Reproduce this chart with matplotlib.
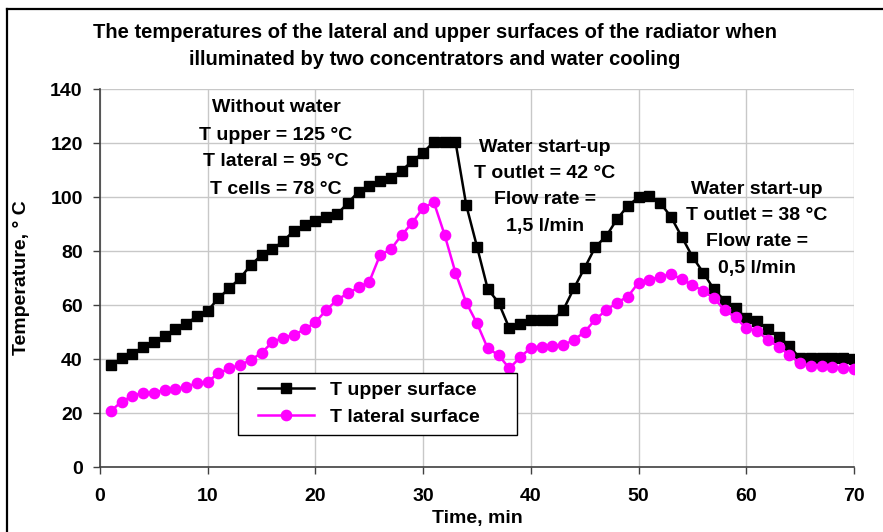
import matplotlib
matplotlib.use("Agg")
import matplotlib.pyplot as plt
from matplotlib.lines import Line2D
from matplotlib.legend_handler import HandlerLine2D

plt.rcParams['font.family'] = ['Liberation Sans', 'DejaVu Sans']
plt.rcParams['font.weight'] = 'bold'

time_min = list(range(1, 71))
t_upper = [37.8, 40.2, 41.8, 44.6, 46.4, 48.5, 51.0, 52.8, 56.0, 57.9,
           62.5, 66.2, 69.9, 74.8, 78.5, 80.6, 83.7, 87.4, 89.6, 91.0,
           92.7, 93.6, 97.7, 102.0, 104.1, 105.9, 107.2, 109.8, 113.3, 116.4,
           120.5, 120.5, 120.5, 97.0, 81.6, 65.9, 60.9, 51.4, 52.8, 54.4,
           54.4, 54.4, 58.1, 66.2, 73.8, 81.6, 85.5, 91.8, 96.7, 99.9,
           100.4, 97.9, 92.7, 85.3, 77.9, 72.0, 65.8, 61.6, 58.8, 55.1,
           54.2, 51.0, 48.3, 44.8, 40.2, 40.2, 40.2, 40.2, 40.2, 39.9]
t_lateral = [20.7, 24.2, 26.3, 27.5, 27.5, 28.5, 28.8, 29.8, 31.0, 31.6,
             34.7, 36.5, 37.8, 39.6, 42.3, 46.2, 47.9, 48.9, 51.0, 53.6,
             58.1, 61.9, 64.3, 66.5, 68.6, 78.5, 80.6, 85.9, 90.5, 96.0,
             98.0, 85.9, 72.0, 60.9, 53.2, 43.9, 41.5, 36.5, 40.6, 44.2,
             44.6, 44.9, 45.2, 47.0, 50.1, 54.7, 58.1, 60.9, 63.1, 68.3,
             69.3, 70.5, 71.4, 69.6, 67.4, 65.2, 62.5, 58.1, 55.4, 51.4,
             50.5, 47.0, 44.6, 41.5, 38.4, 37.4, 37.4, 36.9, 36.5, 36.2]

x_ticks = [0, 10, 20, 30, 40, 50, 60, 70]
y_ticks = [0, 20, 40, 60, 80, 100, 120, 140]

title_lines = ["The temperatures of the lateral and upper surfaces of the radiator when",
               "illuminated by two concentrators and water cooling"]
note1 = ["Without water", "T upper = 125 °C", "T lateral = 95 °C", "T cells = 78 °C"]
note2 = ["Water start-up", "T outlet = 42 °C", "Flow rate =", "1,5 l/min"]
note3 = ["Water start-up", "T outlet = 38 °C", "Flow rate =", "0,5 l/min"]

FS = 14
W, H = 883, 532
fig = plt.figure(figsize=(W / 100, H / 100), dpi=100)

# outer frame (left and top edges visible)
fig.lines.append(Line2D([6.5 / W, 6.5 / W], [0, 1 - 8.5 / H], transform=fig.transFigure,
                        color='black', linewidth=1.6))
fig.lines.append(Line2D([6.5 / W, 1], [1 - 8.5 / H, 1 - 8.5 / H], transform=fig.transFigure,
                        color='black', linewidth=1.6))

ax = fig.add_axes([100 / W, 1 - 467 / H, 754 / W, 378 / H])
l1, = ax.plot(time_min, t_upper, color='black', marker='s', markersize=6.8, linewidth=1.8,
              label='T upper surface', zorder=3)
l2, = ax.plot(time_min, t_lateral, color='#ff00ff', marker='o', markersize=7.4, linewidth=1.8,
              label='T lateral surface', zorder=3)

ax.set_xlim(0, 70)
ax.set_ylim(0, 140)
ax.set_xticks(x_ticks)
ax.set_yticks(y_ticks)
ax.grid(True, color='#c8c8c8', linewidth=1.0)
ax.set_axisbelow(True)
for side in ['top', 'right']:
    ax.spines[side].set_visible(False)
for side in ['left', 'bottom']:
    ax.spines[side].set_color('#404040')
    ax.spines[side].set_linewidth(1.2)
ax.tick_params(axis='both', direction='out', length=5, width=1.0, color='#404040',
               labelsize=FS, pad=7.5)
ax.tick_params(axis='x', pad=10)
for lbl in ax.get_xticklabels() + ax.get_yticklabels():
    lbl.set_fontweight('bold')

fig.text(22 / W, 1 - 278 / H, "Temperature, ° C", rotation=90, ha='center', va='center',
         fontsize=FS, fontweight='bold')
fig.text(477 / W, 1 - 518 / H, "Time, min", ha='center', va='center',
         fontsize=FS, fontweight='bold')

fig.text(435 / W, 1 - 33 / H, title_lines[0], ha='center', va='center', fontsize=14.5, fontweight='bold')
fig.text(435 / W, 1 - 60 / H, title_lines[1], ha='center', va='center', fontsize=14.5, fontweight='bold')

def put_lines(lines, xc, y0, step=27):
    for i, s in enumerate(lines):
        fig.text(xc / W, 1 - (y0 + i * step) / H, s, ha='center', va='center',
                 fontsize=FS, fontweight='bold')

put_lines(note1, 276, 108)
put_lines(note2, 545, 147, 26.5)
put_lines(note3, 757, 189, 26.5)

hm = {l1: HandlerLine2D(xpad=0.6), l2: HandlerLine2D(xpad=0.6)}
leg = ax.legend(handles=[l1, l2], handler_map=hm, loc='lower left',
                bbox_to_anchor=(138 / 754, 32 / 378, 279 / 754, 62 / 378), mode='expand',
                fancybox=False, edgecolor='black', framealpha=1,
                handlelength=3.45, handletextpad=0.85,
                borderpad=0.45, labelspacing=0.5, borderaxespad=0,
                prop={'weight': 'bold', 'size': FS})
leg.get_frame().set_linewidth(1.0)

fig.savefig("out.png", dpi=100)
